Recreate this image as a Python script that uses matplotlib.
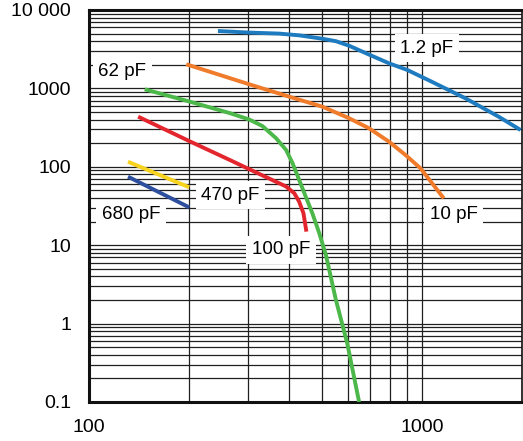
import numpy as np
from matplotlib import pyplot as plt
from matplotlib.ticker import LogLocator, FixedLocator, FixedFormatter, NullFormatter

plt.rcParams['font.family'] = ['Liberation Sans', 'DejaVu Sans']

# curves (x, y)
x_1p2 = [244, 303, 373, 428, 503, 552, 605, 694, 797, 904, 1071, 1352, 1701, 1980]
y_1p2 = [5400, 5150, 5000, 4750, 4300, 4000, 3500, 2700, 2090, 1720, 1217, 748, 436, 295]

x_10 = [196, 303, 400, 503, 605, 694, 797, 894, 991, 1074, 1164]
y_10 = [2030, 1128, 783, 584, 416, 310, 209, 141, 95.7, 61.6, 39.6]

x_100 = [147, 200, 264, 303, 332, 365, 391, 409, 428, 448, 469, 492, 515, 552, 597, 648]
y_100 = [974, 681, 486, 401, 331, 231, 164, 111, 68, 41.6, 25.5, 14.2, 7.5, 2.0, 0.56, 0.1]

x_62 = [140.5, 200, 264, 303, 348, 391, 414, 428, 441, 450]
y_62 = [436, 213, 123, 93.2, 70.7, 56.1, 45.9, 35.9, 25.5, 14.9]

x_470 = [131, 200]
y_470 = [116, 54.8]

x_680 = [131, 200]
y_680 = [74.8, 30.4]

labels = ["1.2 pF", "62 pF", "470 pF", "680 pF", "100 pF", "10 pF"]
label_x = [1035, 126, 266, 134, 378, 1247]
label_y = [3275, 1620, 43.6, 24.3, 8.7, 24.3]

yticks = [0.1, 1, 10, 100, 1000, 10000]
yticklabels = ["0.1", "1", "10", "100", "1000", "10 000"]
xticks = [100, 1000]
xticklabels = ["100", "1000"]

fig = plt.figure(figsize=(5.23, 4.41), dpi=100)
ax = fig.add_axes([89 / 523, 39 / 441, 433 / 523, 392 / 441])
ax.set_xscale('log')
ax.set_yscale('log')
ax.set_xlim(100, 2000)
ax.set_ylim(0.1, 10000)

ax.xaxis.set_major_locator(FixedLocator(xticks))
ax.xaxis.set_major_formatter(FixedFormatter(xticklabels))
ax.yaxis.set_major_locator(FixedLocator(yticks))
ax.yaxis.set_major_formatter(FixedFormatter(yticklabels))
ax.xaxis.set_minor_locator(LogLocator(base=10, subs=np.arange(2, 10), numticks=50))
ax.yaxis.set_minor_locator(LogLocator(base=10, subs=np.arange(2, 10), numticks=50))
ax.xaxis.set_minor_formatter(NullFormatter())
ax.yaxis.set_minor_formatter(NullFormatter())
ax.grid(which='both', color='#202020', lw=0.9, zorder=1)
ax.set_axisbelow(True)
ax.tick_params(which='both', length=0, labelsize=14)
ax.tick_params(axis='y', pad=13)
ax.tick_params(axis='x', pad=12)
for s in ax.spines.values():
    s.set_linewidth(2.2)
    s.set_color('#111111')
ax.spines['right'].set_linewidth(1.2)

lw = 2.8
style = dict(lw=lw, zorder=4, solid_capstyle='butt', solid_joinstyle='round')
ax.plot(x_1p2, y_1p2, color='#1f7bbf', **style)
ax.plot(x_10, y_10, color='#f07b2a', **style)
ax.plot(x_100, y_100, color='#4cb84a', **style)
ax.plot(x_62, y_62, color='#e3262e', **style)
ax.plot(x_470, y_470, color='#f8d31e', **style)
ax.plot(x_680, y_680, color='#2d4f9e', **style)

for t, lx, ly in zip(labels, label_x, label_y):
    ax.text(lx, ly, t, fontsize=13.5, ha='center', va='center', zorder=3,
            bbox=dict(boxstyle='square,pad=0.3', fc='white', ec='none'))

fig.savefig('out.png', dpi=100)
